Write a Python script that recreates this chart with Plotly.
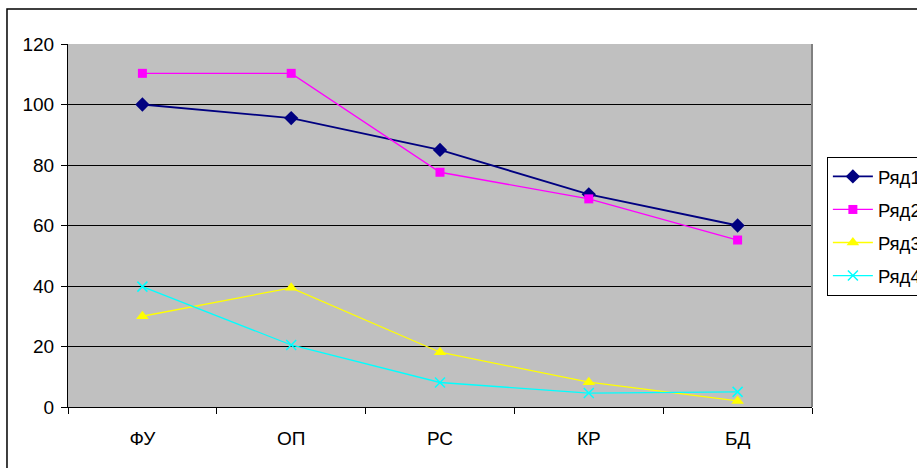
import plotly.graph_objects as go

categories = ["ФУ", "ОП", "РС", "КР", "БД"]
series_names = ["Ряд1", "Ряд2", "Ряд3", "Ряд4"]
row1 = [100, 95.5, 85, 70.3, 60]
row2 = [110.3, 110.3, 77.6, 68.8, 55.2]
row3 = [30, 39.4, 18.1, 8.2, 2]
row4 = [39.8, 20.5, 8.1, 4.6, 5]
y_ticks = [0, 20, 40, 60, 80, 100, 120]

styles = [
    dict(color="#000080", symbol="diamond", size=11, width=1.8),
    dict(color="#FF00FF", symbol="square", size=9, width=1.3),
    dict(color="#FFFF00", symbol="triangle-up", size=11, width=1.3),
    dict(color="#00FFFF", symbol="x-thin", size=10, width=1.3),
]

fig = go.Figure()
for name, vals, st in zip(series_names, [row1, row2, row3, row4], styles):
    marker = dict(color=st["color"], symbol=st["symbol"], size=st["size"])
    if st["symbol"] == "x-thin":
        marker["line"] = dict(color=st["color"], width=1.5)
    fig.add_trace(go.Scatter(
        x=categories, y=vals, name=name, mode="lines+markers",
        legendgroup=name,
        line=dict(color=st["color"], width=st["width"]),
        marker=marker,
    ))

fig.update_layout(
    width=917, height=468,
    margin=dict(l=68, r=105, t=44, b=61, autoexpand=False),
    paper_bgcolor="white",
    plot_bgcolor="#C0C0C0",
    font=dict(family="Arial", size=19, color="black"),
    showlegend=True,
    legend=dict(
        x=1.02, y=0.689, xanchor="left", yanchor="top",
        bordercolor="black", borderwidth=1, bgcolor="white",
        font=dict(family="Arial", size=18.5), tracegroupgap=6, itemwidth=40,
    ),
    xaxis=dict(
        type="category", range=[-0.5, 4.5], tickson="boundaries",
        ticks="outside", ticklen=6, tickcolor="black",
        showline=True, linecolor="black", linewidth=1,
        showgrid=False, zeroline=False, ticklabelstandoff=14,
        tickfont=dict(family="Arial", size=19),
    ),
    yaxis=dict(
        range=[0, 120], tickvals=y_ticks,
        ticks="outside", ticklen=6, tickcolor="black",
        showline=True, linecolor="black", linewidth=1,
        showgrid=True, gridcolor="black", gridwidth=1,
        zeroline=False, tickfont=dict(family="Arial", size=19), ticklabelstandoff=3,
    ),
    shapes=[
        # right edge of the plotting area
        dict(type="line", xref="paper", yref="paper", x0=1, x1=1, y0=0, y1=1,
             line=dict(color="#808080", width=2)),
        # outer chart frame
        dict(type="rect", xref="paper", yref="paper",
             x0=-0.082, x1=1.3, y0=-0.4, y1=1.0964,
             line=dict(color="black", width=1.5), layer="below"),
    ],
)

fig.write_html("out.html")
